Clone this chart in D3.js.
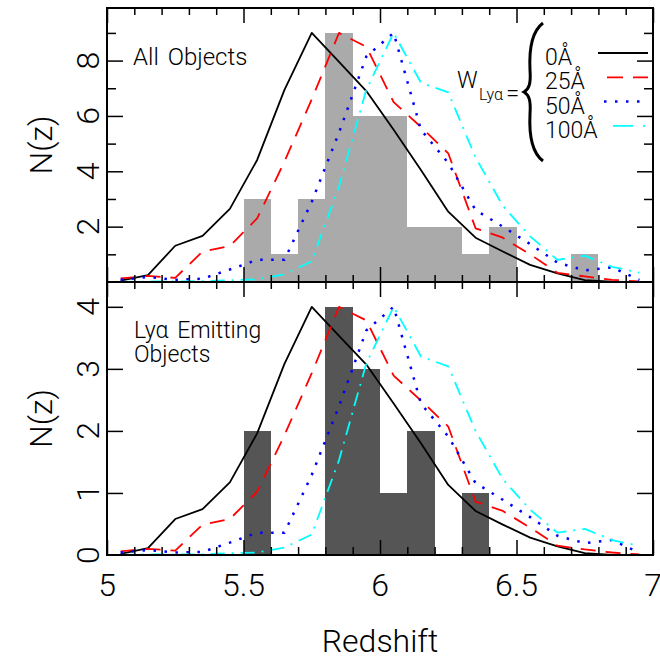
<!DOCTYPE html>
<html><head><meta charset="utf-8">
<script src="https://cdn.jsdelivr.net/npm/d3@7"></script>
<style>
body{margin:0;background:#fff}
svg{display:block}
text{font-family:Roboto,"Liberation Sans",Arial,sans-serif;font-weight:300;fill:#000}
</style>
</head><body>
<svg id="c" width="660" height="659"></svg>
<script>
// ---------- data ----------
const redshift = [5.05,5.15,5.25,5.35,5.45,5.55,5.65,5.75,5.85,5.95,6.05,6.15,6.25,6.35,6.45,6.55,6.65,6.75,6.85,6.95];

const allBinStart = [5.5,5.6,5.7,5.8,5.9,6.0,6.1,6.2,6.3,6.4,6.5,6.6,6.7];
const allCounts   = [3,1,3,9,6,6,2,2,1,2,0,0,1];
const lyaBinStart = [5.5,5.6,5.7,5.8,5.9,6.0,6.1,6.2,6.3];
const lyaCounts   = [2,0,0,4,3,1,2,0,1];
const binWidth = 0.1;

const allW0   = [0.05,0.25,1.31,1.67,2.64,4.41,6.94,9.0,7.95,6.9,5.5,4.05,2.54,1.6,1.1,0.62,0.31,0.07,0.01,0];
const allW25  = [0.13,0.22,0.15,1.1,1.3,2.3,4.35,6.6,9.0,8.5,6.5,5.6,4.65,1.94,1.6,1.0,0.33,0.2,0.08,0.02];
const allW50  = [0.08,0.18,0.08,0.12,0.45,0.8,0.8,2.9,5.4,8.15,9.0,5.5,4.3,2.6,2.0,1.37,0.7,0.42,0.53,0.08];
const allW100 = [0.0,0.02,0.02,0.03,0.06,0.1,0.28,0.75,3.45,6.95,9.0,7.2,6.85,4.5,2.75,1.65,0.8,0.95,0.55,0.34];

const lyaW0   = [0.02,0.11,0.58,0.74,1.17,1.96,3.08,4.0,3.53,3.07,2.44,1.8,1.13,0.71,0.49,0.28,0.14,0.03,0.0,0];
const lyaW25  = [0.06,0.1,0.07,0.49,0.58,1.02,1.93,2.93,4.0,3.78,2.89,2.49,2.07,0.86,0.71,0.44,0.15,0.09,0.04,0.01];
const lyaW50  = [0.04,0.08,0.04,0.05,0.2,0.36,0.36,1.29,2.4,3.62,4.0,2.44,1.91,1.16,0.89,0.61,0.31,0.19,0.24,0.04];
const lyaW100 = [0,0.01,0.01,0.01,0.03,0.04,0.12,0.33,1.53,3.09,4.0,3.2,3.04,2.0,1.22,0.73,0.36,0.42,0.24,0.15];

const xTickLabels = [5,5.5,6,6.5,7];
const topYTicks = [2,4,6,8];
const botYTicks = [0,1,2,3,4];
const legendLabels = ["0Å","25Å","50Å","100Å"];

// ---------- layout ----------
const svg = d3.select("#c");
const L = 107, R = 653, T = 8, M = 282, B = 555;
const x = d3.scaleLinear().domain([5,7]).range([L,R]);
const yTop = d3.scaleLinear().domain([0,9.9]).range([M,T]);
const yBot = d3.scaleLinear().domain([0,4.4]).range([B,M]);

const styles = [
  {color:"#000", dash:null, w:1.8},
  {color:"#ff0000", dash:"15,10", w:1.8},
  {color:"#0000ff", dash:"2.5,8.5", w:2.5},
  {color:"#00ffff", dash:"14,7,2,7", w:1.8}
];

function panel(y, binStart, counts, fill, series) {
  const g = svg.append("g");
  g.selectAll("rect.bar").data(binStart).join("rect")
    .attr("x", d => x(d)).attr("width", d => x(d+binWidth)-x(d))
    .attr("y", (d,i) => y(counts[i])).attr("height", (d,i) => y(0)-y(counts[i]))
    .attr("fill", fill).attr("shape-rendering","crispEdges");
  series.forEach((s,k) => {
    const line = d3.line().x((d,i) => x(redshift[i])).y(d => y(d));
    g.append("path").attr("d", line(s)).attr("fill","none")
      .attr("stroke", styles[k].color).attr("stroke-width", styles[k].w)
      .attr("stroke-dasharray", styles[k].dash).attr("stroke-linejoin","round");
  });
  return g;
}

panel(yTop, allBinStart, allCounts, "#aaaaaa", [allW0, allW25, allW50, allW100]);
panel(yBot, lyaBinStart, lyaCounts, "#555555", [lyaW0, lyaW25, lyaW50, lyaW100]);

// ---------- axes / ticks ----------
const xMajor = d3.range(5, 7.0001, 0.5);
const xMinor = d3.range(5, 7.0001, 0.1).filter(v => Math.abs(v*2 - Math.round(v*2)) > 1e-6);

function ticksX(yPos, axisFn, major, minor) {
  svg.append("g").attr("transform", `translate(0,${yPos})`)
    .call(axisFn(x).tickValues(xMajor).tickSize(-major).tickFormat(""))
    .call(g => g.select(".domain").remove());
  svg.append("g").attr("transform", `translate(0,${yPos})`)
    .call(axisFn(x).tickValues(xMinor).tickSize(-minor).tickFormat(""))
    .call(g => g.select(".domain").remove());
}
ticksX(B, d3.axisBottom, 15, 8);
ticksX(M, d3.axisTop, 15, 7);
ticksX(M, d3.axisBottom, 15, 7);
ticksX(T, d3.axisTop, 15, 7);

function ticksY(y, majorVals, minorVals) {
  [[d3.axisLeft, L], [d3.axisRight, R]].forEach(([fn, pos]) => {
    svg.append("g").attr("transform", `translate(${pos},0)`)
      .call(fn(y).tickValues(majorVals).tickSize(-16).tickFormat(""))
      .call(g => g.select(".domain").remove());
    if (minorVals.length)
      svg.append("g").attr("transform", `translate(${pos},0)`)
        .call(fn(y).tickValues(minorVals).tickSize(-9).tickFormat(""))
        .call(g => g.select(".domain").remove());
  });
}
ticksY(yTop, [2,4,6,8], [1,3,5,7,9]);
ticksY(yBot, [1,2,3,4], []);

svg.selectAll(".tick line").attr("stroke","#000").attr("stroke-width",1.5);

// frame
svg.append("rect").attr("x",L).attr("y",T).attr("width",R-L).attr("height",B-T)
  .attr("fill","none").attr("stroke","#000").attr("stroke-width",2);
svg.append("line").attr("x1",L).attr("x2",R).attr("y1",M).attr("y2",M)
  .attr("stroke","#000").attr("stroke-width",2);

// tick labels
svg.append("g").selectAll("text").data(xTickLabels).join("text")
  .attr("x", d => x(d)).attr("y", 596).attr("text-anchor","middle")
  .attr("font-size", 32).text(d => d);

function yLabels(y, vals) {
  svg.append("g").selectAll("text").data(vals).join("text")
    .attr("transform", d => `translate(99,${y(d)}) rotate(-90)`)
    .attr("text-anchor","middle").attr("font-size",32).text(d => d);
}
yLabels(yTop, topYTicks);
yLabels(yBot, botYTicks);

// axis titles
svg.append("text").attr("x", x(6)).attr("y", 652).attr("text-anchor","middle")
  .attr("font-size",32).text("Redshift");
svg.append("text").attr("transform", `translate(52,${(T+M)/2}) rotate(-90)`)
  .attr("text-anchor","middle").attr("font-size",32).text("N(z)");
svg.append("text").attr("transform", `translate(52,${(M+B)/2}) rotate(-90)`)
  .attr("text-anchor","middle").attr("font-size",32).text("N(z)");

// panel annotations
svg.append("text").attr("x",133).attr("y",65).attr("font-size",24)
  .attr("word-spacing","3px").text("All Objects");
svg.append("text").attr("x",134).attr("y",338).attr("font-size",23)
  .attr("word-spacing","3px").text("Lyα Emitting");
svg.append("text").attr("x",134).attr("y",362).attr("font-size",23).text("Objects");

// legend
svg.append("text").attr("x",457).attr("y",88).attr("font-size",23).text("W");
svg.append("text").attr("x",479).attr("y",100).attr("font-size",16).text("Lyα");
svg.append("text").attr("x",506).attr("y",101).attr("font-size",24).text("=");
svg.append("path")
  .attr("d","M543,23 C531,32 529,50 530,70 C531,84 529,89 524,92 C529,95 531,100 530,114 C529,134 531,152 543,161")
  .attr("fill","none").attr("stroke","#000").attr("stroke-width",3);

const legendDash = [null, "16,10", "2.5,8.5", "20,10,2,10"];
const legendX1 = [598, 598, 604, 613];
const legendOff = [0, 17, 0, 0];
legendLabels.forEach((lab, i) => {
  const base = 65 + i*24.3;
  svg.append("text").attr("x",545).attr("y",base).attr("font-size",23).text(lab);
  svg.append("line").attr("x1",legendX1[i]).attr("x2",648).attr("y1",base-12).attr("y2",base-12)
    .attr("stroke",styles[i].color).attr("stroke-width",styles[i].w)
    .attr("stroke-dasharray",legendDash[i]).attr("stroke-dashoffset",legendOff[i]);
});
</script>
</body></html>
